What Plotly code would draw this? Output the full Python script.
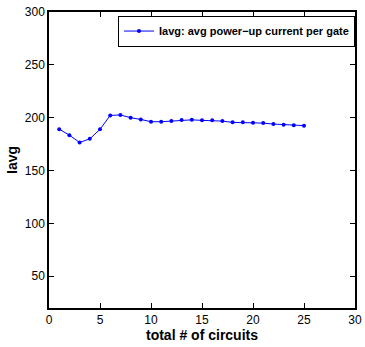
import plotly.graph_objects as go

circuits = list(range(1, 26))
iavg = [189.2, 183.5, 176.6, 180.0, 189.0, 202.2, 202.6, 200.0, 198.4, 196.2,
        196.2, 196.8, 197.8, 198.0, 197.5, 197.5, 196.8, 195.6, 195.6, 195.2,
        194.9, 194.0, 193.4, 192.8, 192.5]

fig = go.Figure()
fig.add_trace(go.Scatter(
    x=circuits, y=iavg, mode="lines+markers",
    line=dict(color="#0000ff", width=1),
    marker=dict(color="#0000ff", size=4),
    name="<b>Iavg: avg power−up current per gate</b>",
))

axis_common = dict(
    showgrid=False, zeroline=False, showline=True, linecolor="black", linewidth=1.5,
    mirror="ticks", ticks="inside", ticklen=5, tickcolor="black", automargin=False,
    tickfont=dict(family="Liberation Sans, Arial", size=12, color="black"),
)
fig.update_xaxes(range=[0, 30], tickvals=[0, 5, 10, 15, 20, 25, 30],
                 title=dict(text="<b>total # of circuits</b>", standoff=1,
                            font=dict(family="Liberation Sans, Arial", size=14, color="black")),
                 **axis_common)
fig.update_yaxes(range=[20, 300], tickvals=[50, 100, 150, 200, 250, 300],
                 title=dict(text="<b>Iavg</b>", standoff=4,
                            font=dict(family="Liberation Sans, Arial", size=14, color="black")),
                 **axis_common)

fig.update_layout(
    width=365, height=347,
    margin=dict(l=49, r=10, t=12, b=39),
    paper_bgcolor="white", plot_bgcolor="white",
    showlegend=True,
    legend=dict(x=1.0, y=0.988, xanchor="right", yanchor="top",
                bgcolor="white", bordercolor="black", borderwidth=1,
                font=dict(family="Liberation Sans, Arial", size=11, color="black"),
                itemwidth=30, tracegroupgap=0),
)
fig.write_html("out.html", config={"displayModeBar": False},
               post_script="document.body.style.margin='0px';")
